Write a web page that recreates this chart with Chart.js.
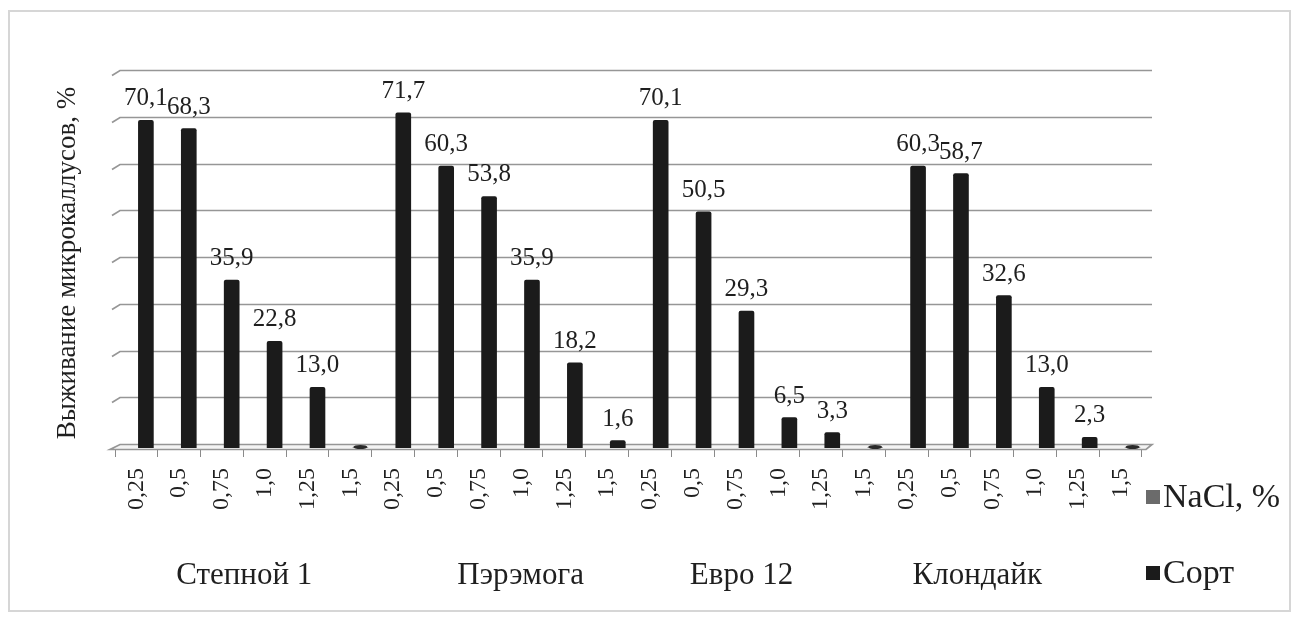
<!DOCTYPE html>
<html>
<head>
<meta charset="utf-8">
<script src="https://cdn.jsdelivr.net/npm/chart.js@4.4.1/dist/chart.umd.min.js"></script>
<style>
  html, body { margin: 0; padding: 0; background: #ffffff; }
  #wrap { position: relative; width: 1299px; height: 621px; }
</style>
</head>
<body>
<div id="wrap"><canvas id="c" width="1299" height="621"></canvas></div>
<script>
// Cultivars and NaCl concentrations (%)
const cultivars = ['Степной 1', 'Пэрэмога', 'Евро 12', 'Клондайк'];
const naclLevels = ['0,25', '0,5', '0,75', '1,0', '1,25', '1,5'];

// Survival of microcalli, % (one value per NaCl level)
const survStepnoy  = [70.1, 68.3, 35.9, 22.8, 13.0, 0];
const survPeremoga = [71.7, 60.3, 53.8, 35.9, 18.2, 1.6];
const survEvro     = [70.1, 50.5, 29.3, 6.5, 3.3, 0];
const survKlondike = [60.3, 58.7, 32.6, 13.0, 2.3, 0];

const yTitle = 'Выживание микрокаллусов, %';
const legendNames = ['NaCl, %', 'Сорт'];

// ---- derived tables ----
const tickLabels = cultivars.flatMap(() => naclLevels);
const values = [survStepnoy, survPeremoga, survEvro, survKlondike].flat();
const barPoints = values.map((v, i) => ({ x: i, y: v }));

const SERIF = '"Liberation Serif", "Times New Roman", serif';
const INK = '#1f1f1f';

// bars stand a little behind (to the right of) their labels on the 3-D floor
const BAR_AXIS_MIN = -0.72;
const BAR_AXIS_MAX = 23.22;
// where each cultivar caption is centred, in category units
const groupCaptionAt = [2.52, 8.98, 14.14, 19.65];

const fmt = v => v.toFixed(1).replace('.', ',');

// back wall, floor, frame, titles, captions, legend
const decor = {
  id: 'decor',
  beforeDraw(chart) {
    const { ctx } = chart;
    ctx.save();
    ctx.fillStyle = '#ffffff';
    ctx.fillRect(0, 0, chart.width, chart.height);
    ctx.strokeStyle = '#d6d6d6';
    ctx.lineWidth = 2;
    ctx.strokeRect(9, 11, 1281, 600);
    ctx.restore();
  },
  beforeDatasetsDraw(chart) {
    const { ctx } = chart;
    const y = chart.scales.y;
    ctx.save();
    // wall grid
    ctx.strokeStyle = '#969696';
    ctx.lineWidth = 1.7;
    for (let v = 10; v <= 80; v += 10) {
      const py = Math.round(y.getPixelForValue(v) - 4) + 0.5;
      ctx.beginPath();
      ctx.moveTo(112, py + 5);
      ctx.lineTo(120, py);
      ctx.lineTo(1152, py);
      ctx.stroke();
    }
    // floor
    const fy = Math.round(y.getPixelForValue(0) - 4) + 0.5;
    ctx.fillStyle = '#f4f4f4';
    ctx.beginPath();
    ctx.moveTo(120, fy);
    ctx.lineTo(1152, fy);
    ctx.lineTo(1146, fy + 5);
    ctx.lineTo(110, fy + 5);
    ctx.closePath();
    ctx.fill();
    ctx.stroke();
    ctx.restore();
  },
  afterDatasetsDraw(chart) {
    const { ctx } = chart;
    const meta = chart.getDatasetMeta(1);
    const base = chart.scales.y.getPixelForValue(0);
    ctx.save();
    ctx.font = '25px ' + SERIF;
    ctx.fillStyle = INK;
    ctx.textAlign = 'center';
    ctx.textBaseline = 'alphabetic';
    meta.data.forEach((bar, i) => {
      const v = values[i];
      if (v > 0) {
        ctx.fillText(fmt(v), bar.x, bar.y - 15);
      } else {
        // empty bar: just its flat top on the floor
        ctx.fillStyle = '#2a2a2a';
        ctx.beginPath();
        ctx.ellipse(bar.x, base - 1, 7, 2, 0, 0, Math.PI * 2);
        ctx.fill();
        ctx.fillStyle = INK;
      }
    });
    ctx.restore();
  },
  afterDraw(chart) {
    const { ctx } = chart;
    const x = chart.scales.x;
    ctx.save();
    ctx.fillStyle = INK;
    // axis title
    ctx.font = '27px ' + SERIF;
    ctx.textAlign = 'center';
    ctx.textBaseline = 'middle';
    ctx.save();
    ctx.translate(68, 263);
    ctx.rotate(-Math.PI / 2);
    ctx.fillText(yTitle, 0, 0);
    ctx.restore();
    // cultivar captions
    ctx.font = '31px ' + SERIF;
    cultivars.forEach((name, g) => {
      ctx.fillText(name, x.getPixelForValue(groupCaptionAt[g]), 576);
    });
    // legend
    const ds = chart.data.datasets;
    const rows = [497, 573];
    ctx.font = '34px ' + SERIF;
    ctx.textAlign = 'left';
    ds.forEach((d, k) => {
      ctx.fillStyle = d.backgroundColor;
      ctx.fillRect(1146, rows[k] - 7, 14, 14);
      ctx.fillStyle = INK;
      ctx.fillText(d.label, 1163, rows[k] + 1);
    });
    ctx.restore();
  }
};

new Chart(document.getElementById('c'), {
  type: 'bar',
  data: {
    labels: tickLabels,
    datasets: [
      {
        label: legendNames[0],
        data: [],
        backgroundColor: '#6b6b6b',
        xAxisID: 'xb',
        grouped: false
      },
      {
        label: legendNames[1],
        data: barPoints,
        backgroundColor: '#1b1b1b',
        borderRadius: 2,
        borderSkipped: 'bottom',
        barThickness: 15,
        xAxisID: 'xb',
        grouped: false
      }
    ]
  },
  options: {
    responsive: false,
    animation: false,
    devicePixelRatio: 1,
    layout: { padding: { left: 115, right: 157, top: 74, bottom: 53 } },
    plugins: {
      legend: { display: false },
      tooltip: { enabled: false }
    },
    scales: {
      x: {
        type: 'category',
        position: 'bottom',
        offset: true,
        border: { display: false },
        grid: {
          display: true,
          drawOnChartArea: false,
          drawTicks: true,
          tickLength: 9,
          offset: true,
          color: '#8a8a8a',
          lineWidth: 1
        },
        ticks: {
          autoSkip: false,
          minRotation: 90,
          maxRotation: 90,
          padding: 11,
          color: INK,
          font: { family: SERIF, size: 24 }
        },
        afterFit(scale) { scale.height = 120; }
      },
      xb: {
        type: 'linear',
        display: false,
        offset: false,
        grid: { offset: false },
        min: BAR_AXIS_MIN,
        max: BAR_AXIS_MAX
      },
      y: {
        display: false,
        min: 0,
        max: 80
      }
    }
  },
  plugins: [decor]
});
</script>
</body>
</html>
